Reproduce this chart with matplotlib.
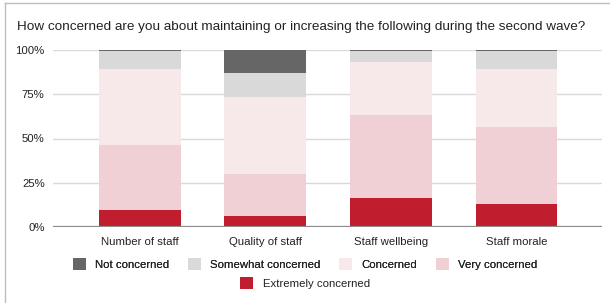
import matplotlib.pyplot as plt
from matplotlib.patches import Patch
from matplotlib.lines import Line2D
import numpy as np

plt.rcParams['font.family'] = ['Liberation Sans', 'DejaVu Sans']

categories = ["Number of staff", "Quality of staff", "Staff wellbeing", "Staff morale"]
levels = ["Extremely concerned", "Very concerned", "Concerned", "Somewhat concerned", "Not concerned"]

extremely = [9.6, 6.4, 16.4, 13.0]
very = [36.8, 23.6, 47.0, 43.6]
concerned = [43.0, 43.2, 30.0, 32.8]
somewhat = [10.2, 13.8, 6.2, 10.2]
not_concerned = [0.4, 13.0, 0.4, 0.4]

series = [extremely, very, concerned, somewhat, not_concerned]
colors = ["#c01d2e", "#f1d0d5", "#f7e8e9", "#d9d9d9", "#666666"]

fig = plt.figure(figsize=(6.1, 3.03), dpi=100)
ax = fig.add_axes([53 / 610, 1 - 227 / 303, 549 / 610, 177 / 303])

x = np.arange(len(categories))
bottom = np.zeros(len(categories))
for vals, col in zip(series, colors):
    ax.bar(x, vals, width=0.65, bottom=bottom, color=col, zorder=3)
    bottom += np.array(vals)

ax.set_xlim(-0.69, 3.68)
ax.set_ylim(0, 100)
ax.set_yticks([0, 25, 50, 75, 100])
ax.set_yticklabels(["0%", "25%", "50%", "75%", "100%"])
ax.set_xticks(x)
ax.set_xticklabels(categories)
ax.tick_params(length=0, labelsize=8.2, colors="#222222")
ax.tick_params(axis="y", pad=6)
ax.tick_params(axis="x", pad=7)
ax.grid(axis="y", color="#d9d9d9", linewidth=1, zorder=0)
for s in ax.spines.values():
    s.set_visible(False)
ax.axhline(0, color="#8a8a8a", linewidth=1.6, zorder=4)

fig.text(17 / 610, 1 - 27 / 303,
         "How concerned are you about maintaining or increasing the following during the second wave?",
         fontsize=9.7, va="center", ha="left", color="#222222")

# legend rows
row1 = [levels[4], levels[3], levels[2], levels[1]]
row1_col = [colors[4], colors[3], colors[2], colors[1]]
h1 = [Patch(facecolor=c, edgecolor="none") for c in row1_col]
leg1 = fig.legend(h1, row1, loc="center", bbox_to_anchor=(0.5, 1 - 264 / 303), ncol=4,
                  frameon=False, fontsize=8.2, handlelength=1.15, handleheight=1.15,
                  handletextpad=0.8, columnspacing=1.65, borderpad=0, labelcolor="#222222")
fig.add_artist(leg1)
h2 = [Patch(facecolor=colors[0], edgecolor="none")]
fig.legend(h2, [levels[0]], loc="center", bbox_to_anchor=(0.5, 1 - 283 / 303),
           frameon=False, fontsize=8.2, handlelength=1.15, handleheight=1.15,
           handletextpad=0.8, borderpad=0, labelcolor="#222222")

# thin frame on the left and top
fig.add_artist(Line2D([4.5 / 610, 4.5 / 610], [0, 1 - 2.5 / 303], transform=fig.transFigure,
                      color="#bdbdbd", linewidth=1))
fig.add_artist(Line2D([4.5 / 610, 1], [1 - 2.5 / 303, 1 - 2.5 / 303], transform=fig.transFigure,
                      color="#bdbdbd", linewidth=1))

fig.savefig("out.png", dpi=100)
